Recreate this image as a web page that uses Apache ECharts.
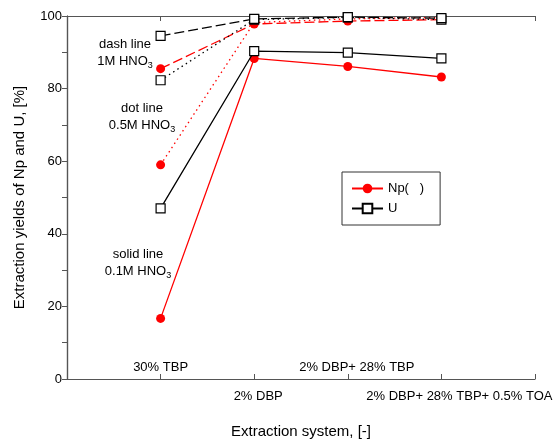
<!DOCTYPE html>
<html>
<head>
<meta charset="utf-8">
<script src="https://cdn.jsdelivr.net/npm/echarts@6/dist/echarts.min.js"></script>
<style>html,body{margin:0;padding:0;background:#fff}#c{width:557px;height:444px}</style>
</head>
<body>
<div id="c"></div>
<script>
// Categories (x positions 1..4)
var categories = ['30% TBP', '2% DBP', '2% DBP+ 28% TBP', '2% DBP+ 28% TBP+ 0.5% TOA'];
var yTicks = [0, 20, 40, 60, 80, 100];

// 0.1M HNO3 (solid)
var np01 = [16.7, 88.3, 86.1, 83.2];
var u01  = [47.0, 90.3, 89.9, 88.3];
// 0.5M HNO3 (dot)
var np05 = [59.0, 98.2, 99.2, 99.6];
var u05  = [82.3, 99.0, 99.6, 99.0];
// 1M HNO3 (dash)
var np1  = [85.5, 97.8, 98.6, 99.0];
var u1   = [94.5, 99.2, 99.7, 99.4];

var FONT = 'Liberation Sans, Arial, sans-serif';
var AX = '#555';

function pts(arr) { return arr.map(function (v, i) { return [i + 1, v]; }); }

function npSeries(data, type) {
  return {
    name: 'Np(   )', type: 'line', data: pts(data), xAxisIndex: 0, yAxisIndex: 0,
    symbol: 'circle', symbolSize: 9,
    itemStyle: { color: '#ff0000', borderColor: '#ff0000', borderWidth: 0 },
    lineStyle: { color: '#ff0000', width: 1.3, type: type },
    z: 3
  };
}
function uSeries(data, type) {
  return {
    name: 'U', type: 'line', data: pts(data), xAxisIndex: 0, yAxisIndex: 0,
    symbol: 'rect', symbolSize: 9,
    itemStyle: { color: '#ffffff', borderColor: '#000000', borderWidth: 1.2 },
    lineStyle: { color: '#000000', width: 1.3, type: type },
    z: 4
  };
}

var up = {0: true, 2: true};
var offs = [0, 8, 18, 36];
var richBottom = {};
offs.forEach(function (p, i) { richBottom['s' + i] = { fontSize: 13, fontFamily: FONT, color: '#000', padding: [0, 0, 0, p] }; });

function labelFmt(wantUp) {
  return function (v) {
    var i = Math.round(v) - 1;
    if (i < 0 || i >= categories.length) return '';
    if (!!up[i] !== wantUp) return '';
    return '{s' + i + '|' + categories[i] + '}';
  };
}

var chart = echarts.init(document.getElementById('c'), null, { renderer: 'canvas' });
var option = {
  animation: false,
  backgroundColor: '#fff',
  textStyle: { fontFamily: FONT },
  grid: { left: 67, right: 22, top: 16, bottom: 62, containLabel: false },
  legend: {
    data: ['Np(   )', 'U'],
    orient: 'vertical',
    left: 342, top: 172,
    padding: [10, 16, 10, 9],
    itemWidth: 31, itemHeight: 12, itemGap: 7,
    borderColor: '#333', borderWidth: 1,
    textStyle: { fontSize: 13, fontFamily: FONT, color: '#000' }
  },
  xAxis: [
    {
      type: 'value', min: 0, max: 5, interval: 1, position: 'bottom',
      axisLine: { show: true, lineStyle: { color: AX, width: 1.2 } },
      axisTick: { show: true, inside: true, length: 5, lineStyle: { color: AX } },
      splitLine: { show: false },
      axisLabel: { inside: true, margin: 5, formatter: labelFmt(true), rich: richBottom, color: '#000' },
      name: 'Extraction system, [-]', nameLocation: 'middle', nameGap: 45,
      nameTextStyle: { fontSize: 15, fontFamily: FONT, color: '#000' }
    },
    {
      type: 'value', min: 0, max: 5, interval: 1, position: 'bottom',
      axisLine: { show: false },
      axisTick: { show: false },
      splitLine: { show: false },
      axisLabel: { inside: false, margin: 11, formatter: labelFmt(false), rich: richBottom, color: '#000' }
    },
    {
      type: 'value', min: 0, max: 5, interval: 1, position: 'top',
      axisLine: { show: true, lineStyle: { color: AX, width: 1.2 } },
      axisTick: { show: true, inside: true, length: 5, lineStyle: { color: AX } },
      splitLine: { show: false },
      axisLabel: { show: false }
    }
  ],
  yAxis: [
    {
      type: 'value', min: 0, max: 100, interval: 10, position: 'left',
      axisLine: { show: true, lineStyle: { color: AX, width: 1.2 } },
      axisTick: { show: true, inside: false, length: 4, lineStyle: { color: AX } },
      splitLine: { show: false },
      axisLabel: {
        margin: 5, fontSize: 13, fontFamily: FONT, color: '#000',
        formatter: function (v) { return yTicks.indexOf(v) >= 0 ? String(v) : ''; }
      },
      name: 'Extraction yields of Np and U, [%]', nameLocation: 'middle', nameGap: 40,
      nameTextStyle: { fontSize: 15, fontFamily: FONT, color: '#000' }
    },
    {
      type: 'value', min: 0, max: 100, interval: 10, position: 'right',
      axisLine: { show: true, lineStyle: { color: AX, width: 1.2 } },
      axisTick: { show: true, inside: true, length: 5, lineStyle: { color: AX } },
      splitLine: { show: false },
      axisLabel: { show: false }
    }
  ],
  series: [
    npSeries(np01, 'solid'),
    uSeries(u01, 'solid'),
    npSeries(np05, [1.5, 3.5]),
    uSeries(u05, [1.5, 3.5]),
    npSeries(np1, [10, 4]),
    uSeries(u1, [10, 4])
  ],
  graphic: []
};

function note(x, y, t1, t2) {
  var rich = {
    m: { fontSize: 13, fontFamily: FONT, color: '#000' },
    sub: { fontSize: 9, fontFamily: FONT, color: '#000', padding: [9, 0, 0, 0] }
  };
  option.graphic.push({
    type: 'text',
    style: { x: x, y: y, text: t1, fontSize: 13, fontFamily: FONT, fill: '#000', align: 'center', verticalAlign: 'middle' }
  });
  option.graphic.push({
    type: 'text',
    style: { x: x, y: y + 17, text: '{m|' + t2 + '}{sub|3}', rich: rich, align: 'center', verticalAlign: 'middle' }
  });
}
note(125, 44, 'dash line', '1M HNO');
note(142, 108, 'dot line', '0.5M HNO');
note(138, 254, 'solid line', '0.1M HNO');

chart.setOption(option);
</script>
</body>
</html>
